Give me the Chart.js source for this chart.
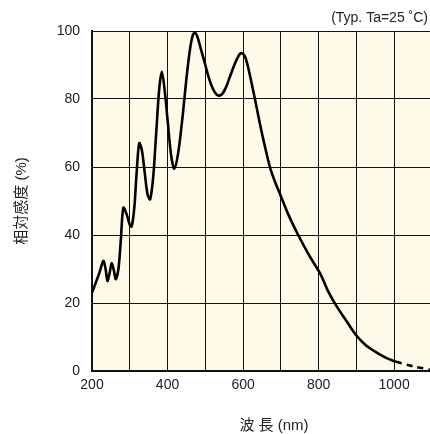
<!DOCTYPE html>
<html>
<head>
<meta charset="utf-8">
<script src="https://cdn.jsdelivr.net/npm/chart.js@4/dist/chart.umd.min.js"></script>
<style>
  html, body { margin: 0; padding: 0; background: #fff; }
  #wrap { width: 430px; height: 434px; position: relative; }
</style>
</head>
<body>
<div id="wrap"><canvas id="chartcontainer"></canvas></div>
<script>
// spectral response
var wavelength = [200, 210, 220, 230, 236, 241, 247, 252, 258, 263, 270, 276, 283, 292, 300, 305,
  312, 318, 325, 332, 340, 347, 354, 362, 370, 378, 385, 392, 400, 410, 418, 428,
  440, 450, 460, 467, 473, 480, 490, 500, 510, 520, 530, 537, 545, 555, 565, 575,
  585, 592, 598, 605, 612, 620, 632, 645, 658, 671, 685, 698, 720, 746, 775, 804,
  825, 848, 875, 899, 925, 954, 980, 1005];
var response = [23, 26, 29, 32.4, 30, 26.5, 29, 31.7, 29.5, 27, 30, 38, 48, 46, 43, 42.5,
  48, 58, 67, 65, 58, 52, 50.5, 57, 70, 83, 88, 83, 74, 63, 59.5, 64,
  75, 86, 95, 98.8, 99.5, 98, 94, 90, 86, 83, 81.3, 81, 81.5, 83.5, 86.5, 89.5,
  92, 93.3, 93.4, 92.5, 90, 86, 79.7, 72.5, 66, 60, 55.5, 52, 46, 40, 34, 28.7,
  23.5, 19, 14.5, 10.6, 7.6, 5.4, 3.8, 2.7];
// extrapolated part (dashed)
var wavelengthExt = [1005, 1050, 1100];
var responseExt = [2.7, 1.4, 0.2];

var xTicks = [200, 300, 400, 500, 600, 700, 800, 900, 1000];
var xLabels = [200, 400, 600, 800, 1000];
var yTicks = [0, 20, 40, 60, 80, 100];

var FONT = "'Liberation Sans', Arial, 'Noto Sans CJK JP', sans-serif";

function toPoints(xs, ys) {
  var pts = [];
  for (var i = 0; i < xs.length; i++) pts.push({ x: xs[i], y: ys[i] });
  return pts;
}

var bgPlugin = {
  id: 'plotbg',
  beforeDraw: function (chart) {
    var a = chart.chartArea, ctx = chart.ctx;
    ctx.save();
    ctx.fillStyle = '#fffae8';
    ctx.fillRect(a.left, a.top, a.right - a.left, a.bottom - a.top);
    ctx.restore();
  },
  afterDraw: function (chart) {
    var ctx = chart.ctx;
    ctx.save();
    ctx.fillStyle = '#222';
    ctx.font = '14px ' + FONT;
    ctx.textAlign = 'right';
    ctx.textBaseline = 'alphabetic';
    ctx.fillText('(Typ. Ta=25 \u02daC)', 428, 22);
    ctx.textAlign = 'center';
    ctx.font = '15px ' + FONT;
    ctx.fillText('波 長 (nm)', 274, 430);
    ctx.translate(22, 201);
    ctx.rotate(-Math.PI / 2);
    ctx.textBaseline = 'middle';
    ctx.fillText('相対感度 (%)', 0, 0);
    ctx.restore();
  }
};

var ctx = document.getElementById('chartcontainer').getContext('2d');
var chart = new Chart(ctx, {
  type: 'line',
  data: {
    datasets: [{
      data: toPoints(wavelength, response),
      borderColor: '#000',
      borderWidth: 2.6,
      pointRadius: 0,
      fill: false,
      tension: 0.3
    }, {
      data: toPoints(wavelengthExt, responseExt),
      borderColor: '#000',
      borderWidth: 2.6,
      borderDash: [6, 5],
      pointRadius: 0,
      fill: false,
      tension: 0.3
    }]
  },
  options: {
    responsive: true,
    maintainAspectRatio: false,
    animation: false,
    layout: { padding: { top: 31, right: 0, left: 0, bottom: 0 } },
    plugins: {
      legend: { display: false },
      tooltip: { enabled: false },
      title: { display: false }
    },
    scales: {
      x: {
        type: 'linear',
        min: 200,
        max: 1095,
        afterBuildTicks: function (axis) {
          axis.ticks = xTicks.map(function (v) { return { value: v }; });
        },
        afterFit: function (axis) { axis.height = 63; },
        grid: { color: '#111', lineWidth: 1, drawTicks: false },
        border: { color: '#111', width: 2 },
        ticks: {
          padding: 6,
          maxRotation: 0,
          autoSkip: false,
          color: '#222',
          font: { family: FONT, size: 14 },
          callback: function (v) { return xLabels.indexOf(v) >= 0 ? String(v) : ''; }
        }
      },
      y: {
        min: 0,
        max: 100,
        afterBuildTicks: function (axis) {
          axis.ticks = yTicks.map(function (v) { return { value: v }; });
        },
        afterFit: function (axis) { axis.width = 92; },
        grid: { color: '#111', lineWidth: 1, drawTicks: false },
        border: { color: '#111', width: 2 },
        ticks: {
          padding: 12,
          color: '#222',
          font: { family: FONT, size: 14 }
        }
      }
    }
  },
  plugins: [bgPlugin]
});
</script>
</body>
</html>
